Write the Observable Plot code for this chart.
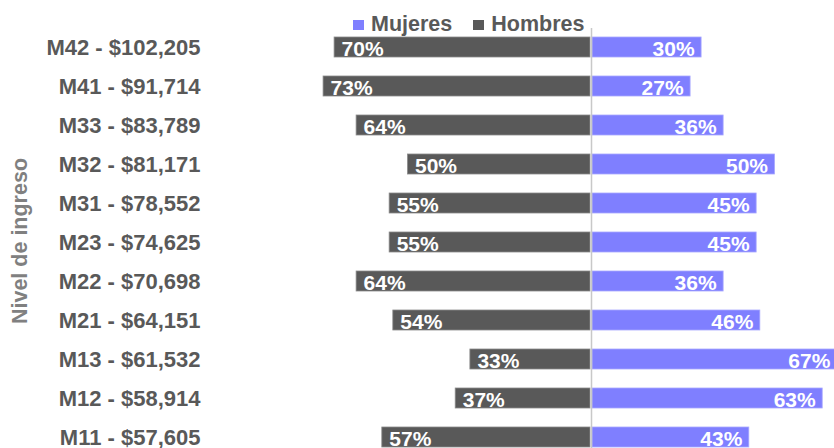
<!DOCTYPE html>
<html>
<head>
<meta charset="utf-8">
<script src="https://cdn.jsdelivr.net/npm/d3@7"></script>
<script src="https://cdn.jsdelivr.net/npm/@observablehq/plot@0.6"></script>
<style>
  html, body { margin: 0; padding: 0; background: #fff; overflow: hidden; }
  #wrap { position: relative; width: 834px; height: 448px; overflow: hidden; font-family: "Liberation Sans", Arial, sans-serif; }
  #legend { position: absolute; left: 353px; top: 13px; display: flex; align-items: center; font-weight: bold; font-size: 21.5px; line-height: 22px; color: #595959; z-index: 2; }
  #legend .sw { display: inline-block; width: 11px; height: 10px; margin-right: 7px; margin-top: 2px; }
  #legend .item { display: flex; align-items: center; margin-right: 21px; }
  #ytitle { position: absolute; left: 20px; top: 241px; transform: translate(-50%, -50%) rotate(-90deg); white-space: nowrap; font-weight: bold; font-size: 21.5px; color: #808080; }
</style>
</head>
<body>
<div id="wrap">
  <div id="legend"></div>
  <div id="ytitle">Nivel de ingreso</div>
  <div id="chart"></div>
</div>
<script>
const niveles = ["M42","M41","M33","M32","M31","M23","M22","M21","M13","M12","M11"];
const sueldos = ["$102,205","$91,714","$83,789","$81,171","$78,552","$74,625","$70,698","$64,151","$61,532","$58,914","$57,605"];
const hombres = [70,73,64,50,55,55,64,54,33,37,57];
const mujeres = [30,27,36,50,45,45,36,46,67,63,43];
const series = ["Mujeres","Hombres"];
const colores = ["#7f7fff","#595959"];

const rows = niveles.map((n, i) => ({nivel: n, sueldo: sueldos[i], h: hombres[i], m: mujeres[i]}));
const sueldoDe = Object.fromEntries(rows.map(r => [r.nivel, r.sueldo]));

const legend = document.getElementById("legend");
series.forEach((s, i) => {
  const it = document.createElement("div");
  it.className = "item";
  it.innerHTML = `<span class="sw" style="background:${colores[i]}"></span><span>${s}</span>`;
  legend.appendChild(it);
});

const chart = Plot.plot({
  width: 834,
  height: 448,
  marginLeft: 210,
  marginRight: 0,
  marginTop: 28,
  marginBottom: 0,
  style: {fontFamily: "Liberation Sans, Arial, sans-serif", overflow: "hidden"},
  x: {domain: [-100, 100], range: [224, 958], axis: null},
  y: {domain: niveles, range: [18.2, 466.3], padding: 0.475, align: 0.5},
  marks: [
    Plot.barX(rows, {y: "nivel", x1: d => -d.h, x2: 0, fill: colores[1], stroke: "#8a8a8a", strokeWidth: 0.8, insetRight: 1}),
    Plot.barX(rows, {y: "nivel", x1: 0, x2: "m", fill: colores[0], stroke: "#a8a8ff", strokeWidth: 0.8, insetLeft: 1}),
    Plot.ruleX([0], {stroke: "#c8c8c8", strokeWidth: 1.5}),
    Plot.text(rows, {y: "nivel", x: d => -d.h, text: d => d.h + "%", textAnchor: "start", dx: 7, dy: 2, fill: "white", fontWeight: "bold", fontSize: 21}),
    Plot.text(rows, {y: "nivel", x: "m", text: d => d.m + "%", textAnchor: "end", dx: -7, dy: 2, fill: "white", fontWeight: "bold", fontSize: 21}),
    Plot.axisY({anchor: "left", tickSize: 0, tickPadding: 10, label: null, tickFormat: d => `${d} - ${sueldoDe[d]}`, fontSize: 22, fontWeight: "bold", fill: "#595959"})
  ]
});
document.getElementById("chart").appendChild(chart);
</script>
</body>
</html>
